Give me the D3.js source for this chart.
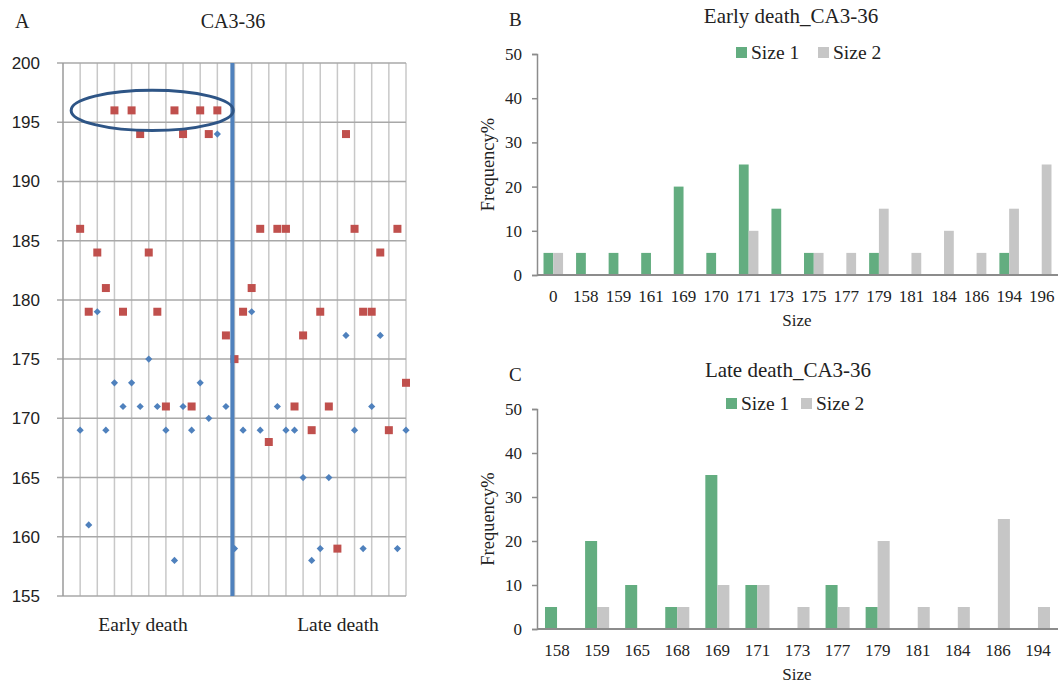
<!DOCTYPE html>
<html>
<head>
<meta charset="utf-8">
<script src="https://cdn.jsdelivr.net/npm/d3@7"></script>
<style>
  body { margin: 0; background: #fff; }
  svg text { fill: #222; }
  .serif { font-family: "Liberation Serif", "Times New Roman", serif; }
  .sans { font-family: "Liberation Sans", Arial, sans-serif; }
</style>
</head>
<body>
<script>
// Panel A: allele sizes per sample (sample index on x)
const sampleIdx = d3.range(2, 41);
const size1Vals = [169, 161, 179, 169, 173, 171, 173, 171, 175, 171, 169, 158, 171, 169, 173, 170, 194, 171, 159,
  169, 179, 169, 168, 171, 169, 169, 165, 158, 159, 165, 159, 177, 169, 159, 171, 177, 169, 159, 169];
const size2Vals = [186, 179, 184, 181, 196, 179, 196, 194, 184, 179, 171, 196, 194, 171, 196, 194, 196, 177, 175,
  179, 181, 186, 168, 186, 186, 171, 177, 169, 179, 171, 159, 194, 186, 179, 179, 184, 169, 186, 173];
const dividerAt = 19.75;
const yTicksA = [155, 160, 165, 170, 175, 180, 185, 190, 195, 200];

// Panel B: early death frequencies
const earlyCats = ["0", "158", "159", "161", "169", "170", "171", "173", "175", "177", "179", "181", "184", "186", "194", "196"];
const earlySize1 = [5, 5, 5, 5, 20, 5, 25, 15, 5, 0, 5, 0, 0, 0, 5, 0];
const earlySize2 = [5, 0, 0, 0, 0, 0, 10, 0, 5, 5, 15, 5, 10, 5, 15, 25];

// Panel C: late death frequencies
const lateCats = ["158", "159", "165", "168", "169", "171", "173", "177", "179", "181", "184", "186", "194"];
const lateSize1 = [5, 20, 10, 5, 35, 10, 0, 10, 5, 0, 0, 0, 0];
const lateSize2 = [0, 5, 0, 5, 10, 10, 5, 5, 20, 5, 5, 25, 5];

const freqTicks = [0, 10, 20, 30, 40, 50];
const seriesNames = ["Size 1", "Size 2"];

const W = 1061, H = 685;
const svg = d3.select("body").append("svg").attr("width", W).attr("height", H);

// ---------- Panel A ----------
const xA = d3.scaleLinear().domain([0, 40]).range([63, 406]);
const yA = d3.scaleLinear().domain([155, 200]).range([596, 63]);
const gA = svg.append("g");

gA.selectAll("line.vgrid").data(d3.range(2, 41, 2)).enter().append("line")
  .attr("x1", d => xA(d)).attr("x2", d => xA(d))
  .attr("y1", yA(200)).attr("y2", yA(155))
  .attr("stroke", "#c8c8c8").attr("stroke-width", 1.5);

gA.selectAll("line.hgrid").data(yTicksA).enter().append("line")
  .attr("x1", xA(0) - 6).attr("x2", xA(40))
  .attr("y1", d => yA(d)).attr("y2", d => yA(d))
  .attr("stroke", "#a8a8a8").attr("stroke-width", 1.5);

gA.append("line")
  .attr("x1", xA(0)).attr("x2", xA(0)).attr("y1", yA(200)).attr("y2", yA(155))
  .attr("stroke", "#9a9a9a").attr("stroke-width", 1.5);

gA.selectAll("text.ytick").data(yTicksA).enter().append("text")
  .attr("class", "sans")
  .attr("x", 40).attr("y", d => yA(d)).attr("dy", "0.35em")
  .attr("text-anchor", "end").attr("font-size", 17)
  .text(d => d);

const diamond = d3.symbol().type(d3.symbolSquare).size(26);
gA.selectAll("path.s1").data(sampleIdx).enter().append("path")
  .attr("d", diamond)
  .attr("transform", (d, i) => `translate(${xA(d)},${yA(size1Vals[i])}) rotate(45)`)
  .attr("fill", "#4f81bd");

const square = d3.symbol().type(d3.symbolSquare).size(64);
gA.selectAll("path.s2").data(sampleIdx).enter().append("path")
  .attr("d", square)
  .attr("transform", (d, i) => `translate(${xA(d)},${yA(size2Vals[i])})`)
  .attr("fill", "#c0504d");

gA.append("line")
  .attr("x1", xA(dividerAt)).attr("x2", xA(dividerAt))
  .attr("y1", yA(200)).attr("y2", yA(155))
  .attr("stroke", "#4f81bd").attr("stroke-width", 4);

gA.append("ellipse")
  .attr("cx", xA(10.4)).attr("cy", yA(196))
  .attr("rx", xA(9.45) - xA(0)).attr("ry", yA(0) - yA(1.7))
  .attr("fill", "none").attr("stroke", "#2e5586").attr("stroke-width", 3);

gA.append("text").attr("class", "serif").attr("x", 15).attr("y", 28)
  .attr("font-size", 20).text("A");
gA.append("text").attr("class", "serif").attr("x", 233).attr("y", 28)
  .attr("text-anchor", "middle").attr("font-size", 20).text("CA3-36");
gA.append("text").attr("class", "serif").attr("x", 143).attr("y", 631)
  .attr("text-anchor", "middle").attr("font-size", 19.5).text("Early death");
gA.append("text").attr("class", "serif").attr("x", 338).attr("y", 631)
  .attr("text-anchor", "middle").attr("font-size", 19.5).text("Late death");

// ---------- Panels B and C ----------
const colors = ["#63ad80", "#c6c6c6"];

function barPanel(opt) {
  const g = svg.append("g");
  const x = d3.scaleBand().domain(opt.cats).range([537, 1058]);
  const inner = d3.scaleBand().domain([0, 1])
    .range([x.bandwidth() * 0.2, x.bandwidth() * 0.8]);
  const y = d3.scaleLinear().domain([0, 50]).range([opt.bottom, opt.top]);

  const rows = opt.cats.map((c, i) => ({ cat: c, v: [opt.s1[i], opt.s2[i]] }));
  const grp = g.selectAll("g.cat").data(rows).enter().append("g")
    .attr("transform", d => `translate(${x(d.cat)},0)`);
  grp.selectAll("rect").data(d => d.v.map((v, k) => ({ v, k }))).enter()
    .filter(d => d.v > 0)
    .append("rect")
    .attr("x", d => inner(d.k)).attr("width", inner.bandwidth())
    .attr("y", d => y(d.v)).attr("height", d => y(0) - y(d.v))
    .attr("fill", d => colors[d.k]);

  const yAxis = g.append("g").attr("transform", "translate(537,0)")
    .call(d3.axisLeft(y).tickValues(freqTicks).tickSize(5).tickPadding(10));
  yAxis.select(".domain").attr("stroke", "#8c8c8c").attr("stroke-width", 1.5);
  yAxis.selectAll(".tick line").attr("stroke", "#8c8c8c").attr("stroke-width", 1.5);
  yAxis.selectAll("text").attr("class", "serif").attr("font-size", 17).attr("fill", "#222");

  g.append("line").attr("x1", 537).attr("x2", 1058)
    .attr("y1", y(0)).attr("y2", y(0))
    .attr("stroke", "#8c8c8c").attr("stroke-width", 2);

  g.selectAll("text.xtick").data(opt.cats).enter().append("text")
    .attr("class", "serif").attr("font-size", 17)
    .attr("x", d => x(d) + x.bandwidth() / 2).attr("y", y(0) + 27)
    .attr("text-anchor", "middle").text(d => d);

  g.append("text").attr("class", "serif").attr("font-size", 17)
    .attr("x", 797).attr("y", y(0) + 51).attr("text-anchor", "middle").text("Size");

  g.append("text").attr("class", "serif").attr("font-size", 18.5)
    .attr("transform", `translate(494,${(y(0) + y(50)) / 2}) rotate(-90)`)
    .attr("text-anchor", "middle").text("Frequency%");

  g.append("text").attr("class", "serif").attr("font-size", 19)
    .attr("x", 509).attr("y", opt.letterY).text(opt.letter);
  g.append("text").attr("class", "serif").attr("font-size", 21)
    .attr("x", opt.titleX).attr("y", opt.titleY).attr("text-anchor", "middle").text(opt.title);

  const lg = g.selectAll("g.leg").data(seriesNames).enter().append("g")
    .attr("transform", (d, i) => `translate(${opt.legX[i]},${opt.legY})`);
  lg.append("rect").attr("x", 0).attr("y", -12).attr("width", 11).attr("height", 11)
    .attr("fill", (d, i) => colors[i]);
  lg.append("text").attr("class", "serif").attr("font-size", 19.5)
    .attr("x", 15).attr("y", 0).text(d => d);
}

barPanel({
  cats: earlyCats, s1: earlySize1, s2: earlySize2,
  top: 54, bottom: 275, letter: "B", letterY: 26, title: "Early death_CA3-36",
  titleX: 791, titleY: 23, legX: [736, 818], legY: 59
});

barPanel({
  cats: lateCats, s1: lateSize1, s2: lateSize2,
  top: 409, bottom: 629, letter: "C", letterY: 381, title: "Late death_CA3-36",
  titleX: 788, titleY: 377, legX: [726, 801], legY: 410
});
</script>
</body>
</html>
